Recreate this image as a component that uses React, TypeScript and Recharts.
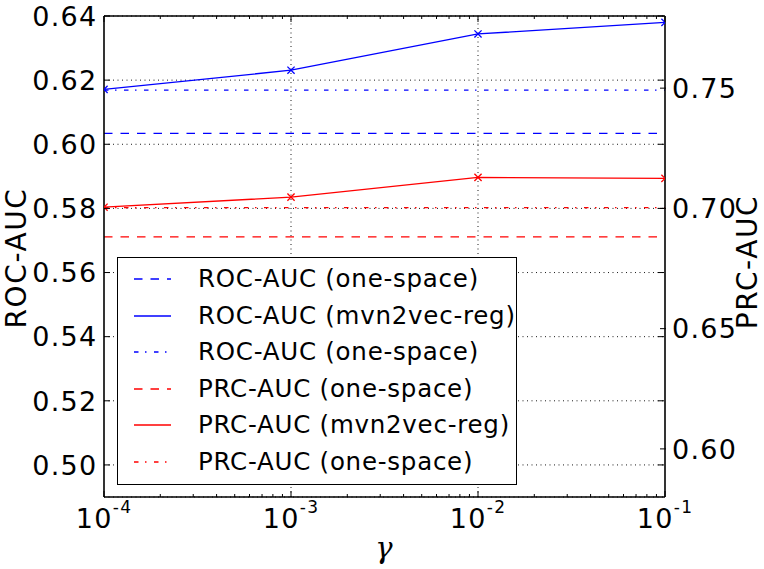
import React from "react";
import {
  LineChart,
  Line,
  XAxis,
  YAxis,
  CartesianGrid,
  ReferenceLine,
  Legend,
} from "recharts";

// gamma values on the x axis (log scale)
const gammas = [1e-4, 1e-3, 1e-2, 1e-1];

// ROC-AUC, left axis
const rocReg = [0.6171, 0.6231, 0.6344, 0.638];
const rocOneSpace = 0.6034;
const rocOneSpaceDashDot = 0.6169;

// PRC-AUC, right axis
const prcReg = [0.7005, 0.7047, 0.7129, 0.7125];
const prcOneSpace = 0.6882;
const prcOneSpaceDashDot = 0.7003;

const majorTicks = [1e-4, 1e-3, 1e-2, 1e-1];
const majorExponents = ["-4", "-3", "-2", "-1"];
const minorTicks = [
  2e-4, 3e-4, 4e-4, 5e-4, 6e-4, 7e-4, 8e-4, 9e-4,
  2e-3, 3e-3, 4e-3, 5e-3, 6e-3, 7e-3, 8e-3, 9e-3,
  2e-2, 3e-2, 4e-2, 5e-2, 6e-2, 7e-2, 8e-2, 9e-2,
];
const rocTicks = [0.5, 0.52, 0.54, 0.56, 0.58, 0.6, 0.62, 0.64];
const prcTicks = [0.6, 0.65, 0.7, 0.75];

const legendLabels = [
  "ROC-AUC (one-space)",
  "ROC-AUC (mvn2vec-reg)",
  "ROC-AUC (one-space)",
  "PRC-AUC (one-space)",
  "PRC-AUC (mvn2vec-reg)",
  "PRC-AUC (one-space)",
];

const data = gammas.map((g, i) => ({
  gamma: g,
  rocReg: rocReg[i],
  rocOne: rocOneSpace,
  rocOneDD: rocOneSpaceDashDot,
  prcReg: prcReg[i],
  prcOne: prcOneSpace,
  prcOneDD: prcOneSpaceDashDot,
}));

const FONT = "'DejaVu Sans', sans-serif";
const BLUE = "#0000ff";
const RED = "#ff0000";
const DASHED = "8.5 8";
const DASHDOT = "4.5 6.5 1.5 7.5";
const GRID_DASH = "1 3.5";

const series = [
  { key: "rocOne", axis: "left", color: BLUE, dash: DASHED },
  { key: "rocReg", axis: "left", color: BLUE, dash: undefined },
  { key: "rocOneDD", axis: "left", color: BLUE, dash: DASHDOT },
  { key: "prcOne", axis: "right", color: RED, dash: DASHED },
  { key: "prcReg", axis: "right", color: RED, dash: undefined },
  { key: "prcOneDD", axis: "right", color: RED, dash: DASHDOT },
];

const isMajor = (v: number) => majorTicks.some((t) => Math.abs(t - v) / t < 1e-6);

const BottomTick = ({ x, y, payload }: any) => {
  const v = payload.value;
  if (!isMajor(v)) {
    return <line x1={x} y1={y} x2={x} y2={y - 3} stroke="#000" strokeWidth={1} />;
  }
  const idx = majorTicks.findIndex((t) => Math.abs(t - v) / t < 1e-6);
  return (
    <g>
      <line x1={x} y1={y} x2={x} y2={y - 6} stroke="#000" strokeWidth={1} />
      <text x={x} y={y + 30.5} textAnchor="middle" fontSize={27} fill="#000" fontFamily={FONT} letterSpacing={1.3}>
        <tspan>10</tspan>
        <tspan dy={-15} fontSize={17}>{majorExponents[idx]}</tspan>
      </text>
    </g>
  );
};

const TopTick = ({ x, y, payload }: any) => {
  const len = isMajor(payload.value) ? 6 : 3;
  return <line x1={x} y1={y} x2={x} y2={y + len} stroke="#000" strokeWidth={1} />;
};

const LeftTick = ({ x, y, payload }: any) => (
  <g>
    <line x1={x} y1={y} x2={x + 6} y2={y} stroke="#000" strokeWidth={1} />
    <text x={x - 6.5} y={y + 9.8} textAnchor="end" fontSize={27} fill="#000" fontFamily={FONT} letterSpacing={1.3}>
      {payload.value.toFixed(2)}
    </text>
  </g>
);

const RightMirrorTick = ({ x, y }: any) => (
  <line x1={x - 1} y1={y} x2={x - 7} y2={y} stroke="#000" strokeWidth={1} />
);

const RightTick = ({ x, y, payload }: any) => (
  <g>
    <line x1={x} y1={y} x2={x - 6} y2={y} stroke="#000" strokeWidth={1} />
    <text x={x + 6} y={y + 9.8} textAnchor="start" fontSize={27} fill="#000" fontFamily={FONT} letterSpacing={1.3}>
      {payload.value.toFixed(2)}
    </text>
  </g>
);

const XMarker = (props: any) => {
  const { cx, cy, index, stroke } = props;
  if (cx == null || cy == null) return <g key={`m-${index}`} />;
  const r = 3.6;
  const left = index === 0 ? cx : cx - r;
  const right = index === gammas.length - 1 ? cx : cx + r;
  return (
    <g key={`m-${index}`}>
      <line x1={left} y1={cy - (cx - left)} x2={right} y2={cy + (right - cx)} stroke={stroke} strokeWidth={1.3} />
      <line x1={left} y1={cy + (cx - left)} x2={right} y2={cy - (right - cx)} stroke={stroke} strokeWidth={1.3} />
    </g>
  );
};

const LegendBox = () => (
  <div
    style={{
      width: 400,
      height: 228,
      boxSizing: "border-box",
      border: "1.3px solid #000",
      background: "#fff",
      position: "relative",
      fontFamily: FONT,
    }}
  >
    {series.map((s, i) => (
      <div
        key={i}
        style={{
          position: "absolute",
          left: 0,
          top: 21 + i * 36.5 - 15,
          height: 30,
          display: "flex",
          alignItems: "center",
        }}
      >
        <svg width={80} height={30} style={{ display: "block" }}>
          <line x1={16} y1={15} x2={53} y2={15} stroke={s.color} strokeWidth={1.3} strokeDasharray={s.dash} />
        </svg>
        <span style={{ fontSize: 24.5, letterSpacing: 0.75, whiteSpace: "nowrap", lineHeight: "30px" }}>
          {legendLabels[i]}
        </span>
      </div>
    ))}
  </div>
);

const GammaLabel = () => (
  <text
    x={384}
    y={558}
    textAnchor="middle"
    fontSize={29}
    fontStyle="italic"
    fontFamily="'DejaVu Serif', serif"
    fill="#000"
  >
    γ
  </text>
);

const AxisTitle = ({ cx, cy, text }: any) => (
  <text
    x={cx}
    y={cy}
    transform={`rotate(-90, ${cx}, ${cy})`}
    textAnchor="middle"
    dominantBaseline="central"
    fontSize={28}
    letterSpacing={1.6}
    fontFamily={FONT}
    fill="#000"
  >
    {text}
  </text>
);

const allXTicks = [...majorTicks, ...minorTicks];

export default function App() {
  return (
    <div style={{ position: "absolute", left: 0, top: 0, background: "#fff" }}>
      <LineChart
        width={764}
        height={569}
        data={data}
        margin={{ top: 15, right: 97, bottom: 71, left: 103 }}
      >
        <CartesianGrid
          xAxisId="bottom"
          yAxisId="left"
          vertical={false}
          stroke="#000"
          strokeWidth={0.9}
          strokeDasharray={GRID_DASH}
        />
        {[1e-3, 1e-2].map((g) => (
          <ReferenceLine
            key={g}
            x={g}
            xAxisId="bottom"
            yAxisId="left"
            stroke="#000"
            strokeWidth={0.9}
            strokeDasharray={GRID_DASH}
          />
        ))}
        <XAxis
          xAxisId="bottom"
          dataKey="gamma"
          type="number"
          scale="log"
          domain={[1e-4, 1e-1]}
          allowDataOverflow
          ticks={allXTicks}
          interval={0}
          height={1}
          tickSize={0}
          tickMargin={0}
          tickLine={false}
          axisLine={false}
          tick={(p: any) => <BottomTick key={`b-${p.index}`} {...p} />}
          label={<GammaLabel />}
        />
        <XAxis
          xAxisId="top"
          orientation="top"
          dataKey="gamma"
          type="number"
          scale="log"
          domain={[1e-4, 1e-1]}
          allowDataOverflow
          ticks={allXTicks}
          interval={0}
          height={1}
          tickSize={0}
          tickMargin={0}
          tickLine={false}
          axisLine={false}
          tick={(p: any) => <TopTick key={`t-${p.index}`} {...p} />}
        />
        <YAxis
          yAxisId="left"
          type="number"
          domain={[0.49, 0.64]}
          allowDataOverflow
          ticks={rocTicks}
          interval={0}
          width={1}
          tickSize={0}
          tickMargin={0}
          tickLine={false}
          axisLine={false}
          tick={(p: any) => <LeftTick key={`l-${p.index}`} {...p} />}
          label={<AxisTitle cx={16.5} cy={258} text="ROC-AUC" />}
        />
        <YAxis
          yAxisId="right"
          orientation="right"
          type="number"
          domain={[0.58, 0.78]}
          allowDataOverflow
          ticks={prcTicks}
          interval={0}
          width={1}
          tickSize={0}
          tickMargin={0}
          tickLine={false}
          axisLine={false}
          tick={(p: any) => <RightTick key={`r-${p.index}`} {...p} />}
          label={<AxisTitle cx={747.5} cy={262} text="PRC-AUC" />}
        />
        <YAxis
          yAxisId="leftMirror"
          orientation="right"
          type="number"
          domain={[0.49, 0.64]}
          allowDataOverflow
          ticks={rocTicks}
          interval={0}
          width={1}
          tickSize={0}
          tickMargin={0}
          tickLine={false}
          axisLine={false}
          tick={(p: any) => <RightMirrorTick key={`lm-${p.index}`} {...p} />}
        />
        {series.map((s) => (
          <Line
            key={s.key}
            xAxisId="bottom"
            yAxisId={s.axis}
            dataKey={s.key}
            stroke={s.color}
            strokeWidth={1.3}
            strokeDasharray={s.dash}
            dot={s.dash ? false : (p: any) => <XMarker key={`d-${s.key}-${p.index}`} {...p} stroke={s.color} />}
            activeDot={false}
            isAnimationActive={false}
          />
        ))}
        {/* plot frame, drawn through the axis ranges */}
        <ReferenceLine x={1e-4} xAxisId="bottom" yAxisId="left" stroke="#000" strokeWidth={1.6} />
        <ReferenceLine x={1e-1} xAxisId="bottom" yAxisId="left" stroke="#000" strokeWidth={1.6} />
        <ReferenceLine y={0.49} xAxisId="bottom" yAxisId="left" stroke="#000" strokeWidth={1.6} />
        <ReferenceLine y={0.64} xAxisId="bottom" yAxisId="left" stroke="#000" strokeWidth={1.6} />
        <Legend
          layout="vertical"
          align="center"
          verticalAlign="middle"
          content={<LegendBox />}
          wrapperStyle={{ left: 117, top: 257, width: 400, height: 228 }}
        />
      </LineChart>
    </div>
  );
}
